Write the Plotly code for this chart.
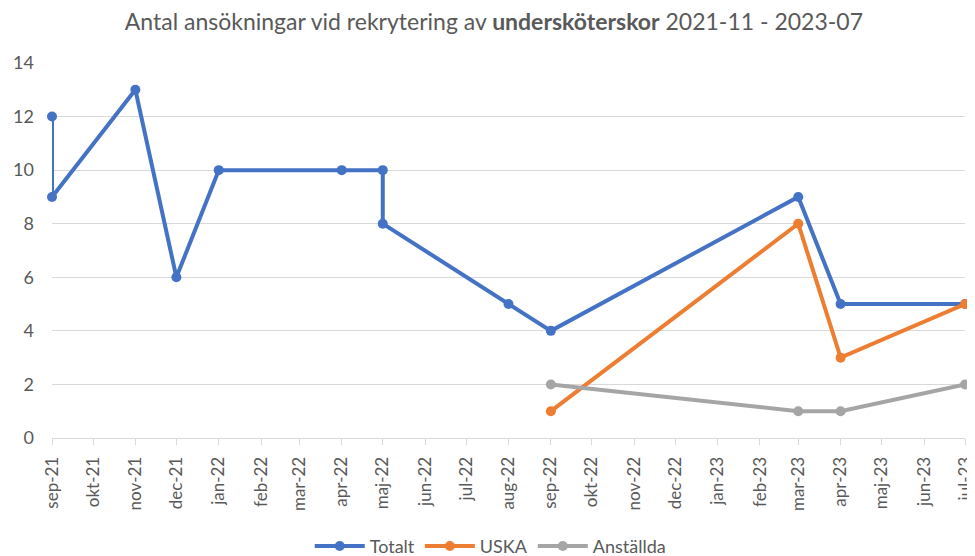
import plotly.graph_objects as go

months = ["2021-09-01", "2021-10-01", "2021-11-01", "2021-12-01", "2022-01-01", "2022-02-01",
          "2022-03-01", "2022-04-01", "2022-05-01", "2022-06-01", "2022-07-01", "2022-08-01",
          "2022-09-01", "2022-10-01", "2022-11-01", "2022-12-01", "2023-01-01", "2023-02-01",
          "2023-03-01", "2023-04-01", "2023-05-01", "2023-06-01", "2023-07-01"]
month_labels = ["sep-21", "okt-21", "nov-21", "dec-21", "jan-22", "feb-22", "mar-22", "apr-22",
                "maj-22", "jun-22", "jul-22", "aug-22", "sep-22", "okt-22", "nov-22", "dec-22",
                "jan-23", "feb-23", "mar-23", "apr-23", "maj-23", "jun-23", "jul-23"]

totalt_x = ["2021-09-01", "2021-09-01", "2021-11-01", "2021-12-01", "2022-01-01", "2022-04-01",
            "2022-05-01", "2022-05-01", "2022-08-01", "2022-09-01", "2023-03-01", "2023-04-01",
            "2023-07-01"]
totalt_y = [12, 9, 13, 6, 10, 10, 10, 8, 5, 4, 9, 5, 5]

uska_x = ["2022-09-01", "2023-03-01", "2023-04-01", "2023-07-01"]
uska_y = [1, 8, 3, 5]

anst_x = ["2022-09-01", "2023-03-01", "2023-04-01", "2023-07-01"]
anst_y = [2, 1, 1, 2]

series = [
    ("Totalt", totalt_x, totalt_y, "#4472C4"),
    ("USKA", uska_x, uska_y, "#ED7D31"),
    ("Anställda", anst_x, anst_y, "#A5A5A5"),
]

fig = go.Figure()
for name, xs, ys, col in series:
    fig.add_trace(go.Scatter(
        x=xs, y=ys, name=name, mode="lines+markers",
        line=dict(color=col, width=4),
        marker=dict(color=col, size=10),
        cliponaxis=False,
    ))

grey = "#595959"
fig.update_layout(
    width=967, height=548,
    margin=dict(l=44, r=10, t=55, b=118, autoexpand=False),
    paper_bgcolor="white", plot_bgcolor="white",
    font=dict(family="Lato, Open Sans, sans-serif", color=grey, size=16),
    title=dict(
        text="Antal ansökningar vid rekrytering av <b>undersköterskor</b> 2021-11 - 2023-07",
        x=0.484, xanchor="center", xref="paper", y=0.975, yanchor="middle",
        font=dict(size=23, color=grey),
    ),
    showlegend=True,
    legend=dict(orientation="h", x=0.48, xanchor="center", y=-0.338, yanchor="bottom",
                font=dict(size=18, color=grey), itemwidth=50),
    xaxis=dict(
        type="date",
        range=["2021-09-01", "2023-07-01"],
        tickvals=months, ticktext=month_labels,
        tickangle=-90,
        ticks="outside", ticklen=6, tickcolor="#D9D9D9",
        showgrid=False,
        showline=True, linecolor="#D9D9D9", linewidth=1,
        tickfont=dict(size=17, color=grey),
        ticklabelstandoff=5,
        zeroline=False,
        automargin=False,
    ),
    yaxis=dict(
        range=[0, 14], dtick=2,
        showgrid=True, gridcolor="#D9D9D9", gridwidth=1,
        zeroline=False, showline=False,
        tickfont=dict(size=18, color=grey),
        ticklabelstandoff=17,
        automargin=False,
    ),
)

fig.write_html("out.html")
